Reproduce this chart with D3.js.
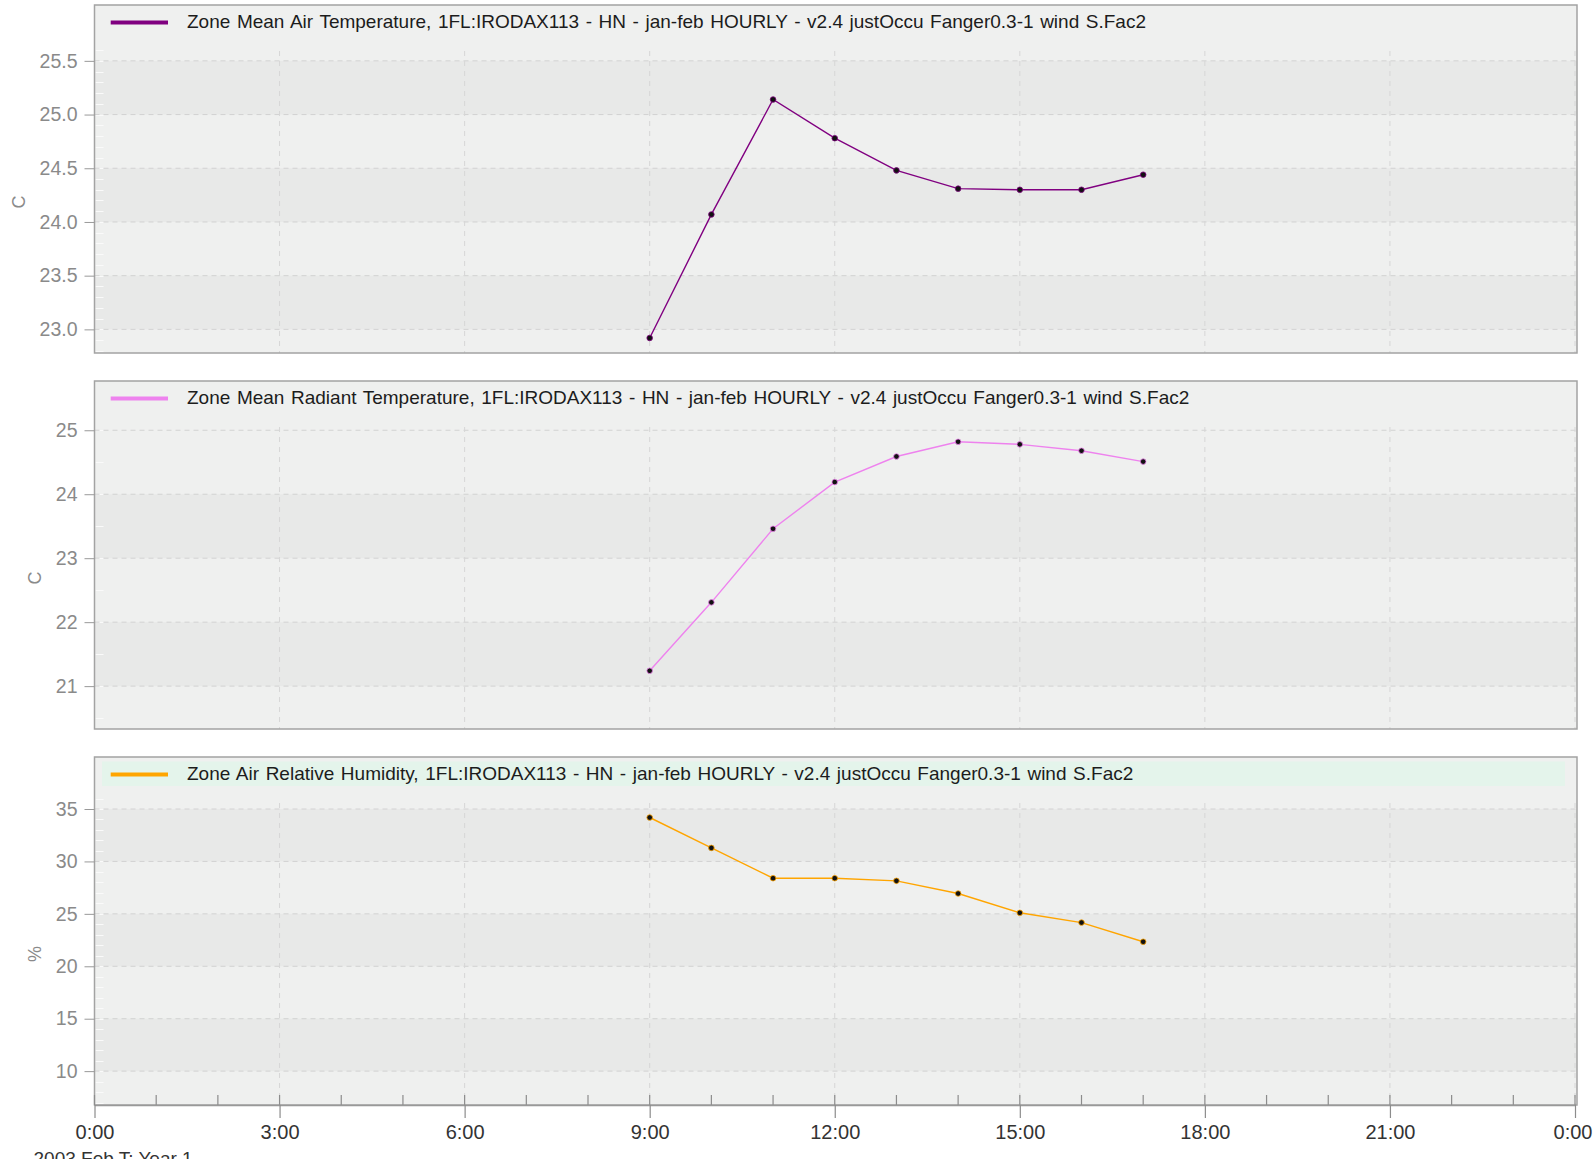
<!DOCTYPE html>
<html>
<head>
<meta charset="utf-8">
<script src="https://cdn.jsdelivr.net/npm/d3@7"></script>
<style>
  body { margin: 0; background: #fff; }
  svg text { font-family: 'Liberation Sans', Arial, sans-serif; }
</style>
</head>
<body>
<svg id="chart"></svg>
<script>
// hourly results, occupied hours only
const hours = [9, 10, 11, 12, 13, 14, 15, 16, 17];
const airTemp = [22.92, 24.07, 25.14, 24.78, 24.48, 24.31, 24.3, 24.3, 24.44];
const radiantTemp = [21.24, 22.31, 23.46, 24.19, 24.59, 24.82, 24.78, 24.68, 24.51];
const humidity = [34.19, 31.29, 28.4, 28.4, 28.15, 26.94, 25.1, 24.17, 22.34];

const titles = [
  'Zone Mean Air Temperature, 1FL:IRODAX113 - HN - jan-feb HOURLY - v2.4 justOccu Fanger0.3-1 wind S.Fac2',
  'Zone Mean Radiant Temperature, 1FL:IRODAX113 - HN - jan-feb HOURLY - v2.4 justOccu Fanger0.3-1 wind S.Fac2',
  'Zone Air Relative Humidity, 1FL:IRODAX113 - HN - jan-feb HOURLY - v2.4 justOccu Fanger0.3-1 wind S.Fac2',
];
const units = ['C', 'C', '%'];
const colors = ['#800080', '#ee82ee', '#ffa500'];

// y ranges and ticks
const airDomain = [22.78, 26.02];
const airTicks = [23, 23.5, 24, 24.5, 25, 25.5];
const radDomain = [20.33, 25.77];
const radTicks = [21, 22, 23, 24, 25];
const humDomain = [6.77, 39.96];
const humTicks = [10, 15, 20, 25, 30, 35];

// x axis (hours of the day)
const xMajor = [0, 3, 6, 9, 12, 15, 18, 21, 24];
const xMinor = d3.range(0, 25, 1);
const footer = '2003 Feb T: Year 1';

const width = 1593;
const height = 1159;
const plotLeft = 94.5;
const plotRight = 1575;
const frameRight = 1577;
const panelHeight = 348;
const panelStep = 376;

const panels = [
  { values: airTemp, domain: airDomain, ticks: airTicks, fmt: d3.format('.1f'), minor: 0.1 },
  { values: radiantTemp, domain: radDomain, ticks: radTicks, fmt: d3.format('d'), minor: 0.5 },
  { values: humidity, domain: humDomain, ticks: humTicks, fmt: d3.format('d'), minor: 1 },
];

const svg = d3.select('#chart').attr('width', width).attr('height', height);

const x = d3.scaleLinear().domain([0, 24]).range([plotLeft, plotRight]);

panels.forEach((p, i) => {
  const top = 5 + i * panelStep;
  const bottom = top + panelHeight;
  const y = d3.scaleLinear().domain(p.domain).range([bottom, top]);
  const g = svg.append('g');

  // background + alternating bands
  g.append('rect')
    .attr('x', plotLeft)
    .attr('y', top)
    .attr('width', frameRight - plotLeft)
    .attr('height', panelHeight)
    .attr('fill', '#eff0ef');

  const bands = p.ticks.slice(0, -1).filter((t, k) => k % 2 === 0);
  g.selectAll('.band')
    .data(bands)
    .enter()
    .append('rect')
    .attr('x', plotLeft)
    .attr('width', frameRight - plotLeft)
    .attr('y', (d) => y(p.ticks[p.ticks.indexOf(d) + 1]))
    .attr('height', (d) => y(d) - y(p.ticks[p.ticks.indexOf(d) + 1]))
    .attr('fill', '#e8e9e8');

  // highlighted legend row on the last panel
  if (i === 2) {
    g.append('rect')
      .attr('x', 102)
      .attr('y', top + 4.5)
      .attr('width', 1463)
      .attr('height', 24.5)
      .attr('fill', '#e4f4eb');
  }

  // white minor ticks inside the left edge
  const minorVals = d3
    .range(Math.ceil(p.domain[0] / p.minor), Math.floor(p.domain[1] / p.minor) + 1)
    .map((k) => k * p.minor)
    .filter((v) => y(v) > top + 40);
  g.selectAll('.minor')
    .data(minorVals)
    .enter()
    .append('line')
    .attr('x1', plotLeft + 1)
    .attr('x2', plotLeft + 9)
    .attr('y1', (d) => Math.round(y(d)) + 0.5)
    .attr('y2', (d) => Math.round(y(d)) + 0.5)
    .attr('stroke', '#fafafa')
    .attr('stroke-width', 1);

  // grid
  g.selectAll('.hgrid')
    .data(p.ticks)
    .enter()
    .append('line')
    .attr('x1', plotLeft)
    .attr('x2', frameRight)
    .attr('y1', (d) => y(d))
    .attr('y2', (d) => y(d))
    .attr('stroke', '#d2d2d2')
    .attr('stroke-width', 1)
    .attr('stroke-dasharray', '5,4');

  g.selectAll('.vgrid')
    .data(xMajor.slice(1))
    .enter()
    .append('line')
    .attr('x1', (d) => x(d))
    .attr('x2', (d) => x(d))
    .attr('y1', top + 46)
    .attr('y2', bottom)
    .attr('stroke', '#d6d6d6')
    .attr('stroke-width', 1)
    .attr('stroke-dasharray', '5,5');

  // frame
  g.append('rect')
    .attr('x', plotLeft)
    .attr('y', top)
    .attr('width', frameRight - plotLeft)
    .attr('height', panelHeight)
    .attr('fill', 'none')
    .attr('stroke', '#a3a3a3')
    .attr('stroke-width', 1.5);

  // y axis
  const yAxis = g
    .append('g')
    .attr('transform', `translate(${plotLeft},0)`)
    .call(d3.axisLeft(y).tickValues(p.ticks).tickSize(10).tickPadding(7).tickFormat(p.fmt));
  yAxis.select('.domain').remove();
  yAxis.selectAll('line').attr('stroke', '#999');
  yAxis
    .selectAll('text')
    .attr('fill', '#8a8a8a')
    .attr('font-size', 19.5)
    .attr('font-family', "'Liberation Sans', Arial, sans-serif");

  let maxW = 0;
  yAxis.selectAll('text').each(function () {
    maxW = Math.max(maxW, this.getComputedTextLength());
  });

  // unit label
  const unitY = (top + 46 + bottom) / 2;
  const unitX = plotLeft - 17 - maxW - 15;
  g.append('text')
    .attr('transform', `translate(${unitX},${unitY}) rotate(-90)`)
    .attr('text-anchor', 'middle')
    .attr('font-size', 18)
    .attr('fill', '#8a8a8a')
    .text(units[i]);

  // legend
  g.append('line')
    .attr('x1', 110.7)
    .attr('x2', 168)
    .attr('y1', top + 17.5)
    .attr('y2', top + 17.5)
    .attr('stroke', colors[i])
    .attr('stroke-width', 4);
  g.append('text')
    .attr('x', 187)
    .attr('y', top + 22.5)
    .attr('font-size', 19)
    .attr('word-spacing', 1.3)
    .attr('fill', '#1c1c1c')
    .text(titles[i]);

  // series
  const pts = hours.map((h, k) => [h, p.values[k]]);
  g.append('path')
    .datum(pts)
    .attr('fill', 'none')
    .attr('stroke', colors[i])
    .attr('stroke-width', 1.4)
    .attr('d', d3.line().x((d) => x(d[0])).y((d) => y(d[1])));

  g.selectAll('.pt')
    .data(pts)
    .enter()
    .append('circle')
    .attr('cx', (d) => x(d[0]))
    .attr('cy', (d) => y(d[1]))
    .attr('r', 2.8)
    .attr('fill', '#111')
    .attr('stroke', colors[i])
    .attr('stroke-width', 0.8);
});

// x axis under the last panel
const axisY = 5 + 2 * panelStep + panelHeight;
const xg = svg.append('g').attr('transform', `translate(0,${axisY})`);

xg.selectAll('.xminor')
  .data(xMinor)
  .enter()
  .append('line')
  .attr('x1', (d) => x(d))
  .attr('x2', (d) => x(d))
  .attr('y1', -10)
  .attr('y2', 0)
  .attr('stroke', '#8c8c8c')
  .attr('stroke-width', 1.2);

const xAxis = xg.call(
  d3
    .axisBottom(x)
    .tickValues(xMajor)
    .tickSizeInner(13)
    .tickSizeOuter(0)
    .tickPadding(7)
    .tickFormat((h) => `${h % 24}:00`)
);
xAxis.select('.domain').attr('stroke', '#999').attr('stroke-width', 1.5);
xAxis.selectAll('.tick line').attr('stroke', '#8c8c8c').attr('stroke-width', 1.2);
xAxis
  .selectAll('text')
  .attr('fill', '#333')
  .attr('font-size', 20)
  .attr('font-family', "'Liberation Sans', Arial, sans-serif");
// keep the last label inside the page edge
xAxis
  .selectAll('text')
  .filter((d) => d === 24)
  .attr('x', -2.5);

// run period label, cut off at the bottom edge
svg
  .append('text')
  .attr('x', 33.5)
  .attr('y', 1165)
  .attr('font-size', 19)
  .attr('fill', '#333')
  .text(footer);
</script>
</body>
</html>
